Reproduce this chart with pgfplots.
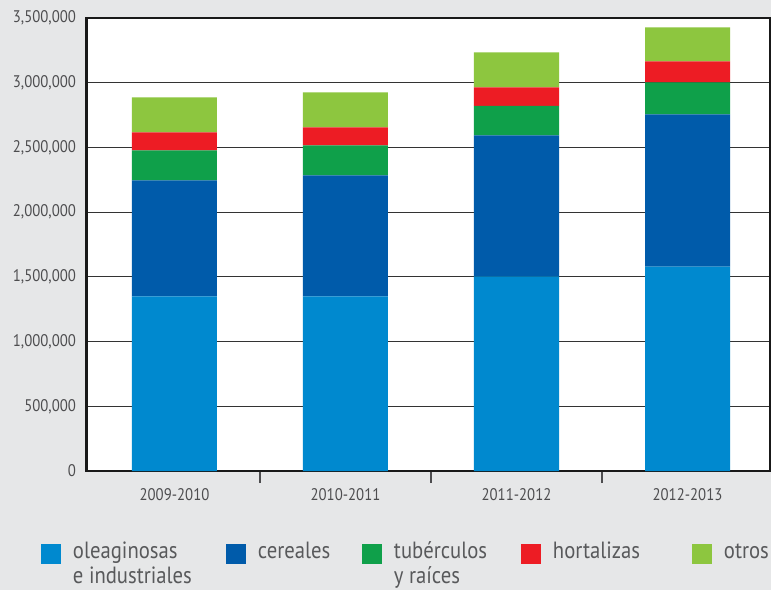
\documentclass[border=0pt]{standalone}
\usepackage{fontspec}
\setmainfont{PT Sans}[FakeStretch=0.88]
\usepackage{pgfplots}
\pgfplotsset{compat=1.18}
\definecolor{bg}{HTML}{E6E7E8}
\definecolor{c1}{HTML}{0089CF}
\definecolor{c2}{HTML}{005BAA}
\definecolor{c3}{HTML}{0FA04A}
\definecolor{c4}{HTML}{ED1C24}
\definecolor{c5}{HTML}{8DC63F}
\definecolor{txt}{HTML}{4D4D4F}
\definecolor{legtxt}{HTML}{58595B}
\newcommand\legsq[1]{\fill[#1] (0pt,-10pt) rectangle (20pt,10pt); \path (32pt,0pt);}
\begin{document}
\begin{tikzpicture}
\useasboundingbox (0,0) rectangle (771pt,590pt);
\fill[bg] (0,0) rectangle (771pt,590pt);
\begin{axis}[
  at={(86.5pt,119pt)}, anchor=south west,
  scale only axis, width=683.5pt, height=453pt,
  ybar stacked, bar width=85pt,
  xmin=-0.5146, xmax=3.4825, ymin=0, ymax=3500000,
  xtick={0,1,2,3},
  xticklabels={2009-2010,2010-2011,2011-2012,2012-2013},
  minor xtick={0.5,1.5,2.5},
  xtick pos=bottom, ytick pos=left,
  ytick={0,500000,1000000,1500000,2000000,2500000,3000000,3500000},
  scaled y ticks=false,
  /pgf/number format/fixed,
  /pgf/number format/1000 sep={,},
  /pgf/number format/assume math mode=true,
  tick align=outside,
  major tick length=0pt,
  minor tick length=12pt,
  minor tick style={line width=1.2pt, draw=txt},
  ymajorgrids,
  grid style={line width=1.1pt, black!80},
  axis line style={line width=2.3pt, black!90},
  axis background/.style={fill=white},
  tick label style={font=\fontsize{16.8}{19}\selectfont, text=txt},
  xticklabel style={yshift=-14pt},
  yticklabel style={xshift=-7pt},
  legend columns=5,
  legend cell align=left,
  legend style={at={(-0.06657,-0.1601)}, anchor=north west, draw=none, fill=none,
    inner sep=0pt, outer sep=0pt, column sep=0pt, row sep=0pt,
    font=\fontsize{23.5}{25}\selectfont, text=legtxt,
    nodes={inner sep=0pt, text height=10pt, text depth=0pt, text=legtxt}},
]
\addplot[fill=c1, draw=none, legend image code/.code={\legsq{c1}}]
  coordinates {(0,1349000) (1,1349000) (2,1503000) (3,1580000)};
\addlegendentry{\makebox[153pt][l]{\begin{tabular}[t]{@{}l@{}}oleaginosas\\e industriales\end{tabular}}}
\addplot[fill=c2, draw=none, legend image code/.code={\legsq{c2}}]
  coordinates {(0,896000) (1,935000) (2,1090000) (3,1175000)};
\addlegendentry{\makebox[104pt][l]{cereales}}
\addplot[fill=c3, draw=none, legend image code/.code={\legsq{c3}}]
  coordinates {(0,233000) (1,231000) (2,229000) (3,247000)};
\addlegendentry{\makebox[127pt][l]{\begin{tabular}[t]{@{}l@{}}tubérculos\\y raíces\end{tabular}}}
\addplot[fill=c4, draw=none, legend image code/.code={\legsq{c4}}]
  coordinates {(0,138000) (1,140000) (2,142000) (3,163000)};
\addlegendentry{\makebox[139pt][l]{hortalizas}}
\addplot[fill=c5, draw=none, legend image code/.code={\legsq{c5}}]
  coordinates {(0,270000) (1,270000) (2,270000) (3,262000)};
\addlegendentry{\makebox[46pt][l]{otros}}
\end{axis}
\end{tikzpicture}
\end{document}
